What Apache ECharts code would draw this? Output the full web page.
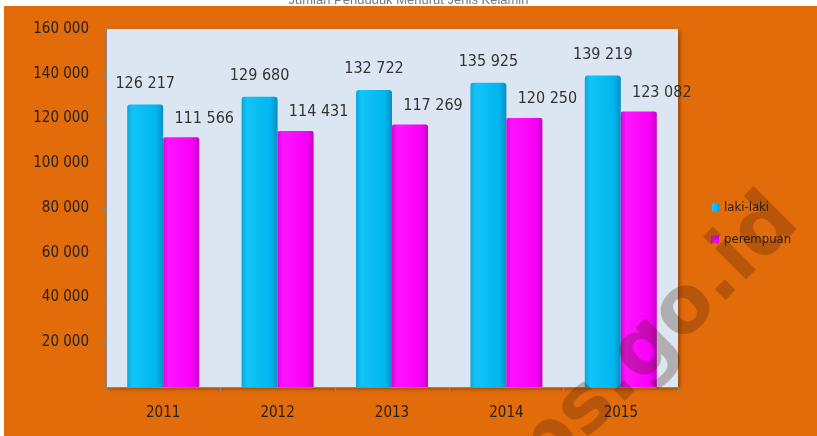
<!DOCTYPE html>
<html>
<head>
<meta charset="utf-8">
<script src="https://cdn.jsdelivr.net/npm/echarts@6/dist/echarts.min.js"></script>
<style>
html,body{margin:0;padding:0;background:#fff;}
#chart{width:817px;height:436px;}
</style>
</head>
<body>
<div id="chart"></div>
<script>
// data
var years = ['2011', '2012', '2013', '2014', '2015'];
var lakiLaki = [126217, 129680, 132722, 135925, 139219];
var perempuan = [111566, 114431, 117269, 120250, 123082];
var seriesNames = ['laki-laki', 'perempuan'];

var FONT = '"DejaVu Sans Condensed", "Liberation Sans", sans-serif';

function fmt(v){
	// thousands with a space, like the original
	return String(v).replace(/\B(?=(\d{3})+(?!\d))/g, ' ');
}

var chart = echarts.init(document.getElementById('chart'));
var option = {
	backgroundColor: '#fff',
	animation: false,
	title: {
		text: 'Jumlah Penduduk Menurut Jenis Kelamin',
		left: 'center',
		top: -11,
		textStyle: { fontSize: 13, fontWeight: 'normal', color: '#777', fontFamily: 'Liberation Sans' }
	},
	graphic: [
		{ type: 'rect', shape: { x: 4, y: 6, width: 813, height: 430 }, style: { fill: '#E36C0A' }, z: -10 },
		{
			// watermark
			type: 'text', x: 638, y: 358, rotation: Math.PI / 4, z: 100, originX: 0, originY: 0,
			style: {
				text: 'bps.go.id', fill: 'rgba(70,30,10,0.28)', font: 'bold 80px "DejaVu Sans"',
				align: 'center', verticalAlign: 'middle'
			}
		}
	],
	legend: {
		orient: 'vertical',
		left: 706,
		top: 196,
		itemWidth: 8,
		itemHeight: 8,
		itemGap: 19,
		icon: 'rect',
		textStyle: { color: '#222', fontSize: 13, fontFamily: FONT },
		data: seriesNames
	},
	grid: {
		left: 106,
		right: 139,
		top: 29,
		bottom: 49,
		show: true,
		backgroundColor: '#DCE6F2',
		borderWidth: 0,
		shadowColor: 'rgba(0,0,0,0.35)',
		shadowBlur: 4,
		shadowOffsetX: 2,
		shadowOffsetY: 2
	},
	xAxis: {
		type: 'category',
		data: years,
		axisLine: { lineStyle: { color: '#888' } },
		axisTick: { show: true, length: 5, lineStyle: { color: '#888' } },
		axisLabel: { color: '#222', fontSize: 15, margin: 19, fontFamily: FONT }
	},
	yAxis: {
		type: 'value',
		min: 0,
		max: 160000,
		interval: 20000,
		axisLine: { show: true, lineStyle: { color: '#888' } },
		axisTick: { show: true, length: 5, lineStyle: { color: '#888' } },
		splitLine: { show: false },
		axisLabel: {
			color: '#222', fontSize: 15, margin: 17, fontFamily: FONT,
			formatter: function(v){ return v === 0 ? '' : fmt(v); }
		}
	},
	series: [
		{
			name: seriesNames[0],
			type: 'bar',
			data: lakiLaki,
			barWidth: 36,
			barGap: '0%',
			itemStyle: {
				color: new echarts.graphic.LinearGradient(0, 0, 1, 0, [
					{ offset: 0, color: '#0AA7DA' },
					{ offset: 0.15, color: '#12C4F8' },
					{ offset: 0.8, color: '#00B6EF' },
					{ offset: 1, color: '#0A8EC0' }
				]),
				borderRadius: [3, 3, 0, 0]
			},
			label: {
				show: true, position: 'top', distance: 13, color: '#333', fontSize: 16,
				fontFamily: FONT, formatter: function(p){ return fmt(p.value); }
			}
		},
		{
			name: seriesNames[1],
			type: 'bar',
			data: perempuan,
			barWidth: 36,
			itemStyle: {
				color: new echarts.graphic.LinearGradient(0, 0, 1, 0, [
					{ offset: 0, color: '#E000E0' },
					{ offset: 0.15, color: '#FF14FF' },
					{ offset: 0.8, color: '#F800F8' },
					{ offset: 1, color: '#C800C8' }
				]),
				borderRadius: [2, 2, 0, 0]
			},
			label: {
				show: true, position: 'top', distance: 11, offset: [23, 0], color: '#333', fontSize: 16,
				fontFamily: FONT, formatter: function(p){ return fmt(p.value); }
			}
		}
	]
};
chart.setOption(option);
</script>
</body>
</html>
